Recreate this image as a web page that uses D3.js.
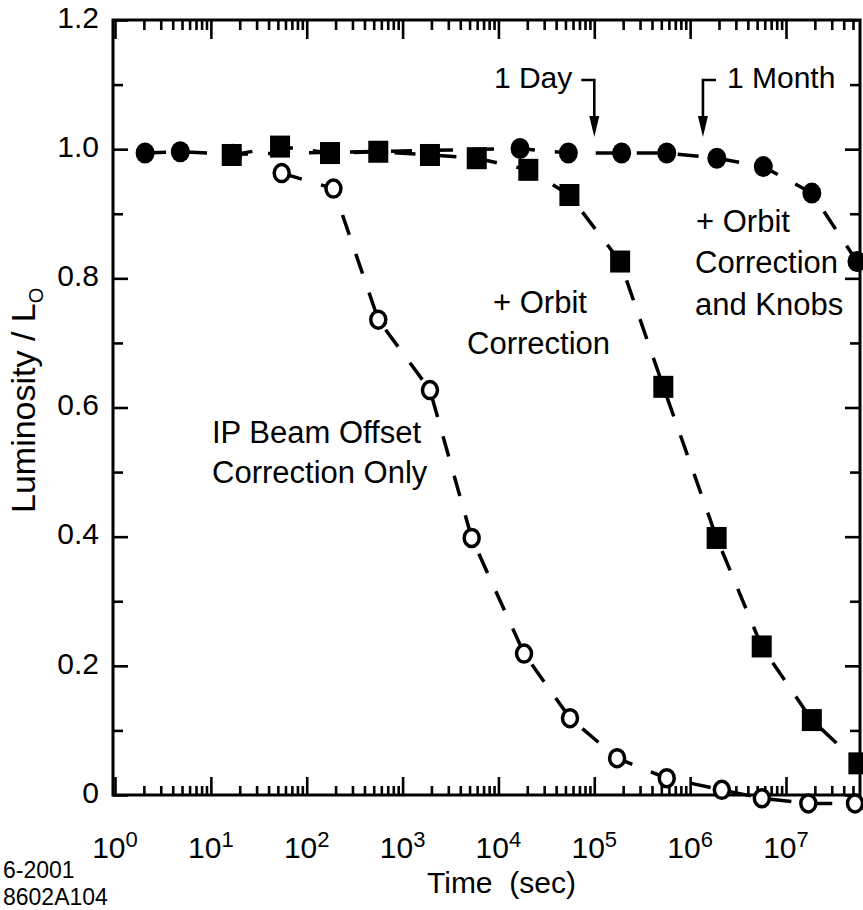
<!DOCTYPE html>
<html>
<head>
<meta charset="utf-8">
<script src="https://cdn.jsdelivr.net/npm/d3@7/dist/d3.min.js"></script>
<style>
  html, body { margin: 0; padding: 0; background: #fff; }
  svg { display: block; font-family: "Liberation Sans", Arial, Helvetica, sans-serif; }
  text { fill: #000; }
</style>
</head>
<body>
<div id="chart"></div>
<script>
// Luminosity decay vs. time for three tuning strategies

// + Orbit Correction and Knobs (filled circles)
const knobsTime = [2.06, 4.8, 17, 16800, 53600, 193000, 570000, 1.9e6, 5.8e6, 1.86e7, 5.5e7];
const knobsLum  = [0.994, 0.996, 0.992, 1.001, 0.994, 0.994, 0.994, 0.986, 0.973, 0.932, 0.826];

// + Orbit Correction (filled squares)
const orbitTime = [16.5, 52.7, 175, 558, 1930, 5940, 20500, 55000, 186000, 525000, 1.89e6, 5.58e6, 1.86e7, 5.69e7];
const orbitLum  = [0.991, 1.004, 0.994, 0.996, 0.991, 0.986, 0.968, 0.929, 0.826, 0.632, 0.398, 0.230, 0.116, 0.049];

// IP Beam Offset Correction Only (open circles)
const ipTime = [54.8, 190, 558, 1930, 5260, 18500, 55800, 173000, 570000, 2.14e6, 5.6e6, 1.71e7, 5.25e7];
const ipLum  = [0.963, 0.939, 0.736, 0.627, 0.398, 0.219, 0.119, 0.057, 0.026, 0.008, -0.005, -0.013, -0.013];

// Axis ticks
const xMajorExp = [0, 1, 2, 3, 4, 5, 6, 7];
const yMajor = [0, 0.2, 0.4, 0.6, 0.8, 1.0, 1.2];
const yMajorLabels = ["0", "0.2", "0.4", "0.6", "0.8", "1.0", "1.2"];
const yMinor = [0.1, 0.3, 0.5, 0.7, 0.9, 1.1];

// Time markers
const markTimes = [1e5, 1.36e6];
const markLabels = ["1 Day", "1 Month"];

const W = 863, H = 910;
const svg = d3.select("#chart").append("svg").attr("width", W).attr("height", H);

const x = d3.scaleLog()
  .domain([Math.pow(10, -0.021), Math.pow(10, 7.772)])
  .range([113, 860]);
const y = d3.scaleLinear().domain([0, 1.2]).range([795, 20]);

const [x0, x1] = x.range();
const [yb, yt] = y.range();

// minor log ticks 2..9 per decade
const xMajor = xMajorExp.map(k => Math.pow(10, k));
const xMinor = [];
xMajorExp.forEach(k => {
  for (let m = 2; m <= 9; m++) {
    const v = m * Math.pow(10, k);
    if (v < x.domain()[1]) xMinor.push(v);
  }
});

function styleAxis(g) {
  g.select(".domain").remove();
  g.selectAll(".tick line").attr("stroke", "#000").attr("stroke-width", 2.6);
  g.selectAll(".tick text").remove();
}

// bottom
svg.append("g").attr("transform", `translate(0,${yb})`)
  .call(d3.axisBottom(x).tickValues(xMajor).tickSize(-18).tickSizeOuter(0).tickFormat(() => ""))
  .call(styleAxis);
svg.append("g").attr("transform", `translate(0,${yb})`)
  .call(d3.axisBottom(x).tickValues(xMinor).tickSize(-9).tickSizeOuter(0).tickFormat(() => ""))
  .call(styleAxis);
// top
svg.append("g").attr("transform", `translate(0,${yt})`)
  .call(d3.axisTop(x).tickValues(xMajor).tickSize(-19).tickSizeOuter(0).tickFormat(() => ""))
  .call(styleAxis);
svg.append("g").attr("transform", `translate(0,${yt})`)
  .call(d3.axisTop(x).tickValues(xMinor).tickSize(-10).tickSizeOuter(0).tickFormat(() => ""))
  .call(styleAxis);
// left
svg.append("g").attr("transform", `translate(${x0},0)`)
  .call(d3.axisLeft(y).tickValues(yMajor).tickSize(-15).tickSizeOuter(0).tickFormat(() => ""))
  .call(styleAxis);
svg.append("g").attr("transform", `translate(${x0},0)`)
  .call(d3.axisLeft(y).tickValues(yMinor).tickSize(-10).tickSizeOuter(0).tickFormat(() => ""))
  .call(styleAxis);
// right
svg.append("g").attr("transform", `translate(${x1},0)`)
  .call(d3.axisRight(y).tickValues(yMajor).tickSize(-15).tickSizeOuter(0).tickFormat(() => ""))
  .call(styleAxis);
svg.append("g").attr("transform", `translate(${x1},0)`)
  .call(d3.axisRight(y).tickValues(yMinor).tickSize(-10).tickSizeOuter(0).tickFormat(() => ""))
  .call(styleAxis);

// frame
svg.append("rect")
  .attr("x", x0).attr("y", yt).attr("width", x1 - x0).attr("height", yb - yt)
  .attr("fill", "none").attr("stroke", "#000").attr("stroke-width", 3);

// y tick labels
svg.append("g").selectAll("text").data(yMajor).join("text")
  .attr("x", x0 - 14)
  .attr("y", d => y(d) - 3)
  .attr("dy", "0.36em")
  .attr("text-anchor", "end")
  .attr("font-size", 30)
  .text((d, i) => yMajorLabels[i]);

// x tick labels with superscript exponents
const xl = svg.append("g").selectAll("text").data(xMajorExp).join("text")
  .attr("x", d => x(Math.pow(10, d)))
  .attr("y", 858)
  .attr("text-anchor", "middle")
  .attr("font-size", 30);
xl.append("tspan").text("10");
xl.append("tspan").attr("font-size", 22).attr("dy", -11).text(d => d);

// axis titles
svg.append("text")
  .attr("x", 427).attr("y", 893)
  .attr("font-size", 30)
  .style("white-space", "pre")
  .text("Time  (sec)");

const yt_ = svg.append("text")
  .attr("transform", "translate(35,513) rotate(-90)")
  .attr("font-size", 34);
yt_.append("tspan").text("Luminosity / L");
yt_.append("tspan").attr("font-size", 20).attr("dy", 8).text("O");

// figure codes
svg.append("text").attr("x", 3).attr("y", 878).attr("font-size", 23).text("6-2001");
svg.append("text").attr("x", 3).attr("y", 905).attr("font-size", 23).text("8602A104");

// series curves
const line = d3.line().x(d => x(d.t)).y(d => y(d.v)).curve(d3.curveLinear);
const zip = (ts, vs) => ts.map((t, i) => ({ t, v: vs[i] }));
const knobs = zip(knobsTime, knobsLum);
const orbit = zip(orbitTime, orbitLum);
const ip = zip(ipTime, ipLum);

[knobs, orbit, ip].forEach(s => {
  svg.append("path").datum(s)
    .attr("d", line)
    .attr("fill", "none")
    .attr("stroke", "#000")
    .attr("stroke-width", 3.5)
    .attr("stroke-dasharray", "21,20");
});

// markers
svg.append("g").selectAll("rect").data(orbit).join("rect")
  .attr("x", d => x(d.t) - 10).attr("y", d => y(d.v) - 11)
  .attr("width", 20).attr("height", 22)
  .attr("fill", "#000");

svg.append("g").selectAll("ellipse").data(knobs).join("ellipse")
  .attr("cx", d => x(d.t)).attr("cy", d => y(d.v))
  .attr("rx", 9.5).attr("ry", 10.5)
  .attr("fill", "#000");

svg.append("g").selectAll("ellipse").data(ip).join("ellipse")
  .attr("cx", d => x(d.t)).attr("cy", d => y(d.v))
  .attr("rx", 7.5).attr("ry", 8.5)
  .attr("fill", "#fff").attr("stroke", "#000").attr("stroke-width", 3.5);

// time markers with bent arrows
const markG = svg.append("g");
markTimes.forEach((t, i) => {
  const mx = x(t);
  const side = i === 0 ? -1 : 1; // label to the left for Day, right for Month
  markG.append("path")
    .attr("d", `M${mx + side * 13},80 H${mx} V118`)
    .attr("fill", "none").attr("stroke", "#000").attr("stroke-width", 2.6);
  markG.append("path")
    .attr("d", `M${mx - 5},116 L${mx + 5},116 L${mx},137 Z`)
    .attr("fill", "#000");
  markG.append("text")
    .attr("x", i === 0 ? mx - 22 : mx + 24)
    .attr("y", 88)
    .attr("text-anchor", i === 0 ? "end" : "start")
    .attr("font-size", 30)
    .text(markLabels[i]);
});

// series annotations
function block(xp, yp, lines) {
  const t = svg.append("text").attr("font-size", 31);
  lines.forEach((s, i) => {
    t.append("tspan").attr("x", xp[i]).attr("y", yp[i]).text(s);
  });
}
block([212, 212], [443, 483], ["IP Beam Offset", "Correction Only"]);
block([493, 467], [313, 354], ["+ Orbit", "Correction"]);
block([696, 695, 695], [232, 273, 315], ["+ Orbit", "Correction", "and Knobs"]);
</script>
</body>
</html>
